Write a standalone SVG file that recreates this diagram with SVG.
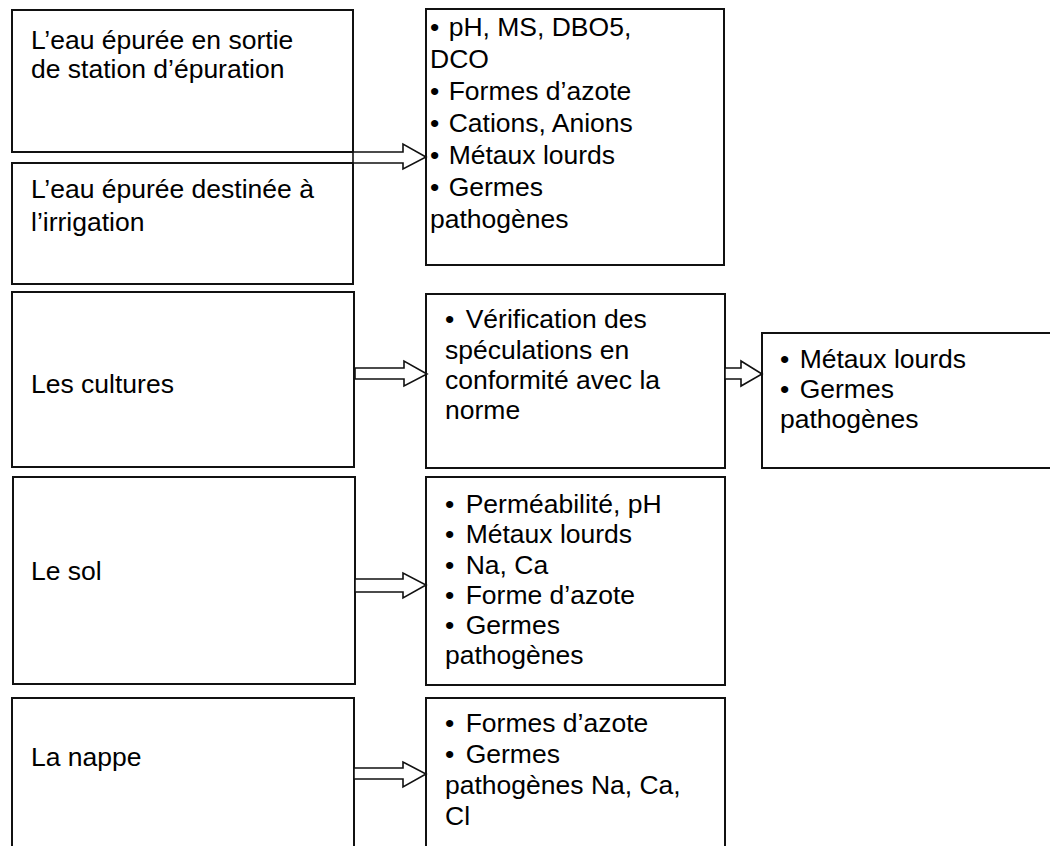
<svg xmlns="http://www.w3.org/2000/svg" width="1050" height="846" viewBox="0 0 1050 846">
<style>
.box{fill:#fff;stroke:#111;stroke-width:2}
.arr{fill:#fff;stroke:#111;stroke-width:1.6;stroke-linejoin:miter}
text{font-family:"Liberation Sans",Arial,sans-serif;font-size:26.5px;fill:#000}
</style>
<rect width="1050" height="846" fill="#fff"/>
<g id="n-sortie"><rect class="box" x="12" y="10" width="341" height="142"/>
<text x="31" y="49">L’eau épurée en sortie</text><text x="31" y="78">de station d’épuration</text></g>
<g id="n-irrigation"><rect class="box" x="12" y="163" width="341" height="121"/>
<text x="31" y="198">L’eau épurée destinée à</text><text x="31" y="231">l’irrigation</text></g>
<g id="n-params-eau"><rect class="box" x="426" y="9" width="298" height="256"/>
<text x="430" y="36">• <tspan dx="2">pH, MS, DBO5,</tspan></text><text x="430" y="68">DCO</text><text x="430" y="100">• <tspan dx="2">Formes d’azote</tspan></text><text x="430" y="132">• <tspan dx="2">Cations, Anions</tspan></text><text x="430" y="164">• <tspan dx="2">Métaux lourds</tspan></text><text x="430" y="196">• <tspan dx="2">Germes</tspan></text><text x="430" y="228">pathogènes</text></g>
<g id="n-cultures"><rect class="box" x="12" y="292" width="342" height="175"/>
<text x="31" y="393">Les cultures</text></g>
<g id="n-verif"><rect class="box" x="426" y="294" width="299" height="174"/>
<text x="445" y="328">• <tspan dx="4">Vérification des</tspan></text><text x="445" y="359">spéculations en</text><text x="445" y="389">conformité avec la</text><text x="445" y="419">norme</text></g>
<g id="n-cultures-params"><rect class="box" x="762" y="333" width="300" height="135"/>
<text x="780" y="368">• <tspan dx="3">Métaux lourds</tspan></text><text x="780" y="398">• <tspan dx="3">Germes</tspan></text><text x="780" y="428">pathogènes</text></g>
<g id="n-sol"><rect class="box" x="13" y="477" width="342" height="207"/>
<text x="31" y="580">Le sol</text></g>
<g id="n-sol-params"><rect class="box" x="426" y="477" width="299" height="208"/>
<text x="445" y="513">• <tspan dx="4">Perméabilité, pH</tspan></text><text x="445" y="543">• <tspan dx="4">Métaux lourds</tspan></text><text x="445" y="574">• <tspan dx="4">Na, Ca</tspan></text><text x="445" y="604">• <tspan dx="4">Forme d’azote</tspan></text><text x="445" y="634">• <tspan dx="4">Germes</tspan></text><text x="445" y="664">pathogènes</text></g>
<g id="n-nappe"><rect class="box" x="12" y="698" width="342" height="160"/>
<text x="31" y="766">La nappe</text></g>
<g id="n-nappe-params"><rect class="box" x="426" y="698" width="299" height="160"/>
<text x="445" y="732">• <tspan dx="4">Formes d’azote</tspan></text><text x="445" y="763">• <tspan dx="4">Germes</tspan></text><text x="445" y="794">pathogènes Na, Ca,</text><text x="445" y="825">Cl</text></g>
<g id="connectors">
<polygon class="arr" points="353,152 403,152 403,144 426,157 403,169 403,163 353,163"/>
<polygon class="arr" points="355,368 404,368 404,361 427,374 404,386 404,379 355,379"/>
<polygon class="arr" points="725,368 741,368 741,361 762,374 741,386 741,379 725,379"/>
<polygon class="arr" points="355,579 403,579 403,573 426,585 403,598 403,592 355,592"/>
<polygon class="arr" points="354,768 403,768 403,762 426,774 403,787 403,779 354,779"/>
</g>
</svg>
